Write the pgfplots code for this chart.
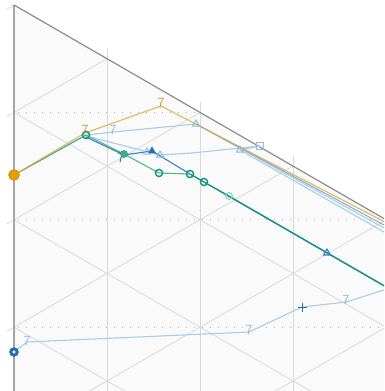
\documentclass[border=0pt]{standalone}
\usepackage{pgfplots}
\pgfplotsset{compat=1.18}
\definecolor{gold}{HTML}{E2A940}
\definecolor{goldmk}{HTML}{E69F00}
\definecolor{golddk}{HTML}{C99A30}
\definecolor{teal1}{HTML}{12977A}
\definecolor{teal2}{HTML}{4DB892}
\definecolor{teal3}{HTML}{8FD3BA}
\definecolor{blue1}{HTML}{3A80C0}
\definecolor{blue2}{HTML}{2270B5}
\definecolor{lblue}{HTML}{A9CDE8}
\definecolor{lbluemk}{HTML}{8DBCE0}
\definecolor{gridc}{HTML}{D9D9D9}
\definecolor{edgec}{HTML}{8C8C8C}
\definecolor{edgel}{HTML}{A6A6A6}
\begin{document}
\begin{tikzpicture}
\begin{axis}[
  width=384pt, height=391pt, scale only axis,
  xmin=0, xmax=384, ymin=0, ymax=391, y dir=reverse,
  hide axis, clip=true,
  seven/.style={only marks, mark=text, text mark={7}, text mark as node=true,
    text mark style={font=\sffamily\fontsize{14}{14}\selectfont, text=#1, inner sep=0pt}},
]
% frame for the bounding box
\addplot[draw=none] coordinates {(0,0) (384,391)};
% triangle background
\addplot[fill=black!2, draw=none] coordinates {(14,5) (384,218.6) (384,391) (14,391)} -- cycle;
% vertical grid lines
\addplot[gridc, line width=0.8pt] coordinates {(107,48.7) (107,391)};
\addplot[gridc, line width=0.8pt] coordinates {(200,102.4) (200,391)};
\addplot[gridc, line width=0.8pt] coordinates {(293,156) (293,391)};
% up-right grid lines
\addplot[gridc, line width=0.8pt] coordinates {(6.7,9.2) (14,5)};
\addplot[gridc, line width=0.8pt] coordinates {(6.7,116.6) (107,58.7)};
\addplot[gridc, line width=0.8pt] coordinates {(6.7,224.0) (200,112.4)};
\addplot[gridc, line width=0.8pt] coordinates {(6.7,331.4) (293,166.1)};
\addplot[gridc, line width=0.8pt] coordinates {(14,434.6) (384,221.0)};
\addplot[gridc, line width=0.8pt] coordinates {(14,542.0) (384,328.4)};
% down-right grid lines
\addplot[gridc, line width=0.8pt] coordinates {(14,112.4) (384,326.0)};
\addplot[gridc, line width=0.8pt] coordinates {(14,219.8) (384,433.4)};
\addplot[gridc, line width=0.8pt] coordinates {(14,327.2) (384,540.8)};
% dotted horizontals
\addplot[black!30, line width=0.8pt, dash pattern=on 0.8pt off 7.2pt] coordinates {(18,112.4) (200,112.4)};
\addplot[black!30, line width=0.8pt, dash pattern=on 0.8pt off 7.2pt] coordinates {(18,219.8) (384,219.8)};
\addplot[black!30, line width=0.8pt, dash pattern=on 0.8pt off 7.2pt] coordinates {(18,327.2) (384,327.2)};
% edges
\addplot[edgel, line width=1.3pt] coordinates {(14,5) (14,391)};
\addplot[edgec, line width=1.2pt] coordinates {(14,5) (384,218.6)};

% ---- data series ----
% light blue L1 (bottom)
\addplot[lblue, line width=1.1pt] coordinates {(14,352) (27,342) (249,332) (302,307) (346,302) (384,290)};
% light blue L2
\addplot[lblue, line width=1.1pt] coordinates {(86,136) (160,155) (192,153) (260,146) (240,150) (384,232)};
% light blue L3
\addplot[lblue, line width=1.1pt] coordinates {(86,135) (113,132) (196,124) (384,228)};
% medium blue upper
\addplot[blue1!70, line width=0.9pt] coordinates {(196,124) (384,225)};
% blue series
\addplot[blue1, line width=1.1pt] coordinates {(86,137) (124,155) (152,151) (190,174) (384,286)};
% teal series
\addplot[teal1, line width=1.1pt, opacity=0.85] coordinates {(14,175) (86,135)};
\addplot[teal2, line width=1.1pt] coordinates {(86,135) (124,154) (159,173) (190,174)};
\addplot[teal1, line width=1.1pt] coordinates {(190,174) (204,182) (229,196) (384,285.5)};
% gold series
\addplot[gold, line width=1.1pt, opacity=0.85] coordinates {(14,175) (85,133) (161,106) (384,221.5)};

% ---- markers ----
\addplot[seven=lbluemk] coordinates {(27,341) (249,330) (346,300) (113,130)};
\addplot[only marks, mark=+, mark size=4.5pt, blue2, line width=1pt] coordinates {(302,307)};
\addplot[only marks, mark=triangle, mark size=4pt, lbluemk, line width=1pt] coordinates {(160,155) (147,152) (240,150) (196,124)};
\addplot[only marks, mark=square, mark size=3.5pt, lbluemk, line width=1pt] coordinates {(260,146)};
\addplot[only marks, mark=triangle*, mark size=4pt, blue2] coordinates {(152,151)};
\addplot[only marks, mark=triangle, mark size=4pt, blue1, line width=1.1pt] coordinates {(327,253)};
\addplot[seven=blue2] coordinates {(121,158)};
\addplot[only marks, mark=o, mark size=3.6pt, teal1, line width=1.4pt] coordinates {(86,135) (159,173) (190,174) (204,182)};
\addplot[only marks, mark=*, mark size=3.6pt, teal1, fill=teal1!80] coordinates {(124,154)};
\addplot[only marks, mark=o, mark size=3.4pt, teal3, line width=1.1pt] coordinates {(229,196)};
\addplot[seven=golddk] coordinates {(85,130) (161,103)};
\addplot[only marks, mark=*, mark size=5.5pt, goldmk, draw=goldmk!80!black] coordinates {(14,175)};
\addplot[only marks, mark=*, mark size=4.5pt, blue2, draw=blue2!80!black] coordinates {(14,352)};
\addplot[only marks, mark=*, mark size=1.4pt, white, draw=white] coordinates {(14,352)};
\end{axis}
\end{tikzpicture}
\end{document}
